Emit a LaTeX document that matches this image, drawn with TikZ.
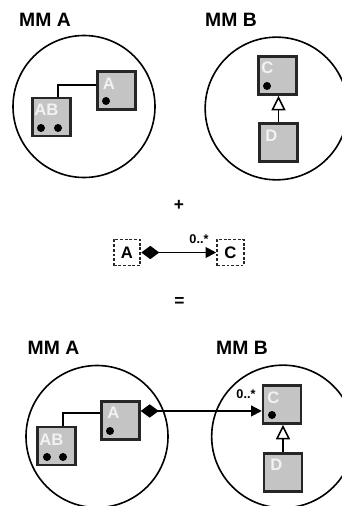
\documentclass[tikz,border=0pt]{standalone}
\usepackage{fontspec}
\setmainfont{Liberation Sans}
\usetikzlibrary{arrows.meta}
\definecolor{boxfill}{HTML}{C4C4C4}
\definecolor{boxline}{HTML}{262626}
\definecolor{boxtext}{HTML}{F2F2F2}
\tikzset{
  mm/.style={draw=black, line width=1.2pt},
  cls/.style={draw=boxline, line width=1.8pt, fill=boxfill, minimum width=28.5pt, minimum height=28.5pt, inner sep=0pt},
  clsname/.style={text=boxtext, font=\fontsize{12.5}{13}\selectfont\bfseries, inner sep=0pt},
  attr/.style={circle, fill=black, minimum size=6pt, inner sep=0pt},
  ref/.style={draw=boxline, line width=1.4pt, dash pattern=on 2.2pt off 1.3pt, fill=white, minimum width=20pt, minimum height=19.5pt, inner sep=0pt, font=\fontsize{12.5}{13}\selectfont\bfseries},
  title/.style={font=\fontsize{14.5}{15}\selectfont\bfseries, inner sep=0pt},
  op/.style={font=\fontsize{13}{13}\selectfont\bfseries, inner sep=0pt},
  mult/.style={font=\fontsize{9.5}{10}\selectfont\bfseries, inner sep=0pt},
  link/.style={draw=black, line width=1.2pt},
  inherit/.style={draw=black, line width=1.2pt, -{Triangle[open, length=11pt, width=10.5pt, line width=1.2pt]}},
  assoc/.style={draw=black, line width=1.4pt, {Diamond[length=13.5pt, width=10pt]}-{Triangle[length=8pt, width=8pt]}},
}
\begin{document}
\begin{tikzpicture}[x=0.75pt, y=-0.75pt]
\useasboundingbox (0,0) rectangle (342,506);
\clip (0,0) rectangle (342,506);

% ---------- top left: MM A ----------
\node[title] (tA) at (45,19.5) {MM A};
\node[mm, circle, minimum size=106.5pt, inner sep=0pt] (cA) at (84,106.5) {};
\node[cls] (A1) at (116.5,90.5) {};
\node[clsname] (A1l) at (109,84) {A};
\node[attr] (A1d) at (106,101) {};
\node[cls] (AB1) at (51.5,117) {};
\node[clsname] (AB1l) at (46.5,109.5) {AB};
\node[attr] (AB1d1) at (41,128) {};
\node[attr] (AB1d2) at (58,128) {};
\draw[link] (AB1.north -| AB1d2) |- (A1.west |- 0,85);

% ---------- top right: MM B ----------
\node[title] (tB) at (231,19.5) {MM B};
\node[mm, circle, minimum size=107pt, inner sep=0pt] (cB) at (276.5,108.5) {};
\node[cls] (C1) at (277.5,75.5) {};
\node[clsname] (C1l) at (267.5,68) {C};
\node[attr] (C1d) at (267,86) {};
\node[cls] (D1) at (278.5,142.5) {};
\node[clsname] (D1l) at (271.5,136) {D};
\draw[inherit] (D1.north) -- (D1.north |- C1.south);

% ---------- the added association ----------
\node[op] (plus) at (179,205.5) {+};
\node[ref] (rA) at (127,252.5) {A};
\node[ref] (rC) at (230.5,252.5) {C};
\draw[assoc] (rA.east) -- (rC.west);
\node[mult] (m1) at (199,239.5) {0..*};
\node[op] (eq) at (179.5,302) {=};

% ---------- bottom left: MM A ----------
\node[title] (tA2) at (53.5,348) {MM A};
\node[mm, circle, minimum size=106.5pt, inner sep=0pt] (cA2) at (97,436.5) {};
\node[cls] (A2) at (120.5,420.5) {};
\node[clsname] (A2l) at (113.5,412.5) {A};
\node[attr] (A2d) at (110,431) {};
\node[cls] (AB2) at (56.5,446) {};
\node[clsname] (AB2l) at (51.5,440) {AB};
\node[attr] (AB2d1) at (47,457) {};
\node[attr] (AB2d2) at (63,457) {};
\draw[link] (AB2.north -| AB2d2) |- (A2.west |- 0,413);

% ---------- bottom right: MM B ----------
\node[title] (tB2) at (242,348) {MM B};
\node[mm, circle, minimum size=107pt, inner sep=0pt] (cB2) at (283,436.5) {};
\node[cls] (C2) at (282,404.5) {};
\node[clsname] (C2l) at (273.5,398) {C};
\node[attr] (C2d) at (272,415) {};
\node[cls] (D2) at (283,472.5) {};
\node[clsname] (D2l) at (276.5,464.5) {D};
\draw[inherit] (D2.north) -- (D2.north |- C2.south);

% ---------- merged association ----------
\coordinate (s2) at ([yshift=-8] A2.north east);
\draw[assoc] (s2) -- (s2 -| C2.west);
\node[mult] (m2) at (246,394.5) {0..*};
\end{tikzpicture}
\end{document}
